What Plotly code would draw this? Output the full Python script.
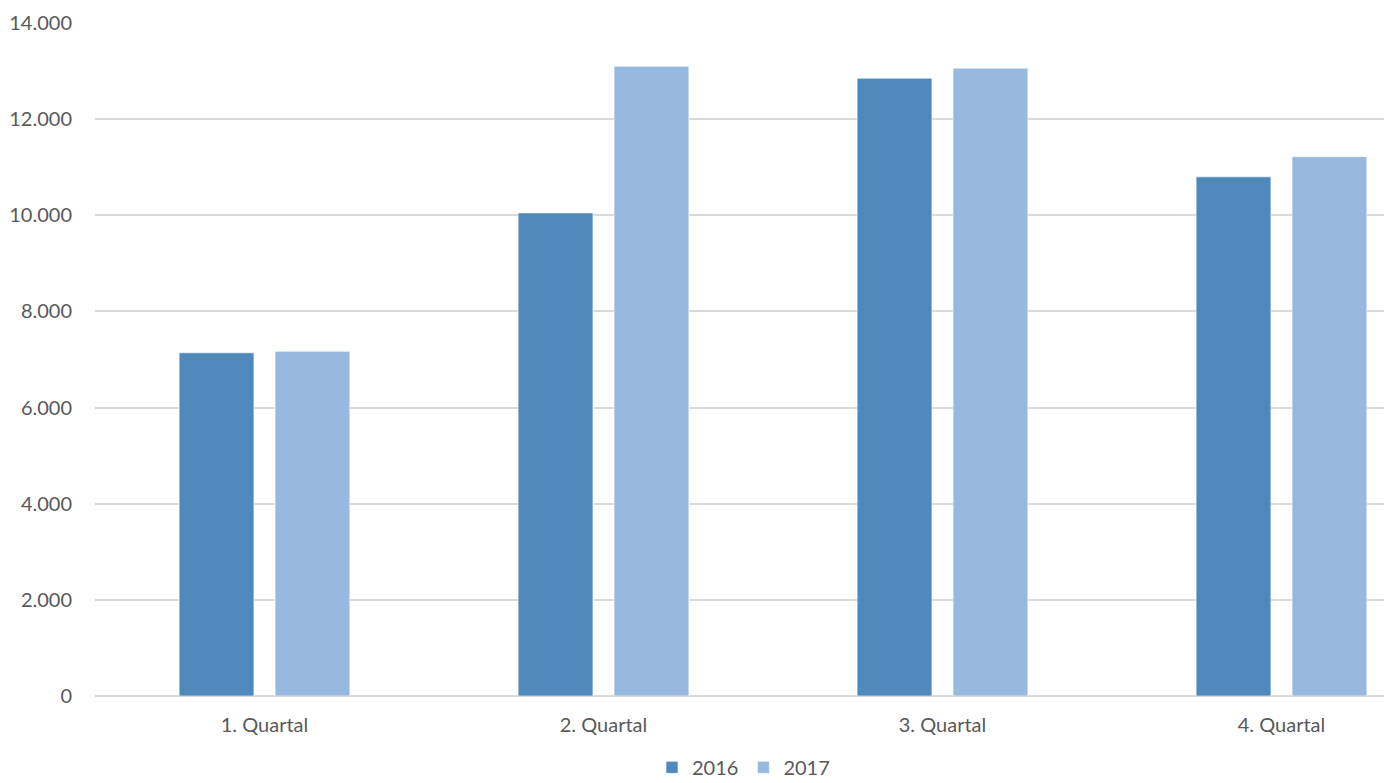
import plotly.graph_objects as go

categories = ["1. Quartal", "2. Quartal", "3. Quartal", "4. Quartal"]
series_names = ["2016", "2017"]
values_2016 = [7140, 10050, 12850, 10800]
values_2017 = [7170, 13100, 13060, 11220]
y_ticks = [0, 2000, 4000, 6000, 8000, 10000, 12000, 14000]

colors = ["#4F89BC", "#98B9DF"]
font_family = "Lato, 'Open Sans', sans-serif"

fig = go.Figure()
for name, vals, col in zip(series_names, [values_2016, values_2017], colors):
    fig.add_trace(go.Bar(
        x=categories, y=vals, name=name,
        marker=dict(color=col, line=dict(color="rgba(255,255,255,0.6)", width=1)),
    ))

fig.update_layout(
    width=1384, height=775,
    margin=dict(l=87, r=0, t=15, b=87, autoexpand=False),
    paper_bgcolor="white", plot_bgcolor="white",
    barmode="group", bargap=0.434, bargroupgap=0.22,
    separators=",.",
    font=dict(family=font_family, size=20, color="#595959"),
    showlegend=True,
    legend=dict(orientation="h", x=0.5, xanchor="center", y=-0.106, yanchor="middle",
                font=dict(size=20, color="#595959"), traceorder="normal",
                itemwidth=30, tracegroupgap=0),
    xaxis=dict(type="category", range=[-0.5, 3.326], showgrid=False,
               showline=False, ticks="", ticklabelstandoff=15,
               tickfont=dict(size=20, color="#595959")),
    yaxis=dict(range=[0, 14000], tickvals=y_ticks, tickformat=",d",
               showgrid=True, gridcolor="#D9D9D9", gridwidth=1.5,
               zeroline=True, zerolinecolor="#D9D9D9", zerolinewidth=1.5,
               showline=False, ticks="", ticklabelstandoff=22,
               tickfont=dict(size=20, color="#595959")),
)

fig.write_html("out.html")
